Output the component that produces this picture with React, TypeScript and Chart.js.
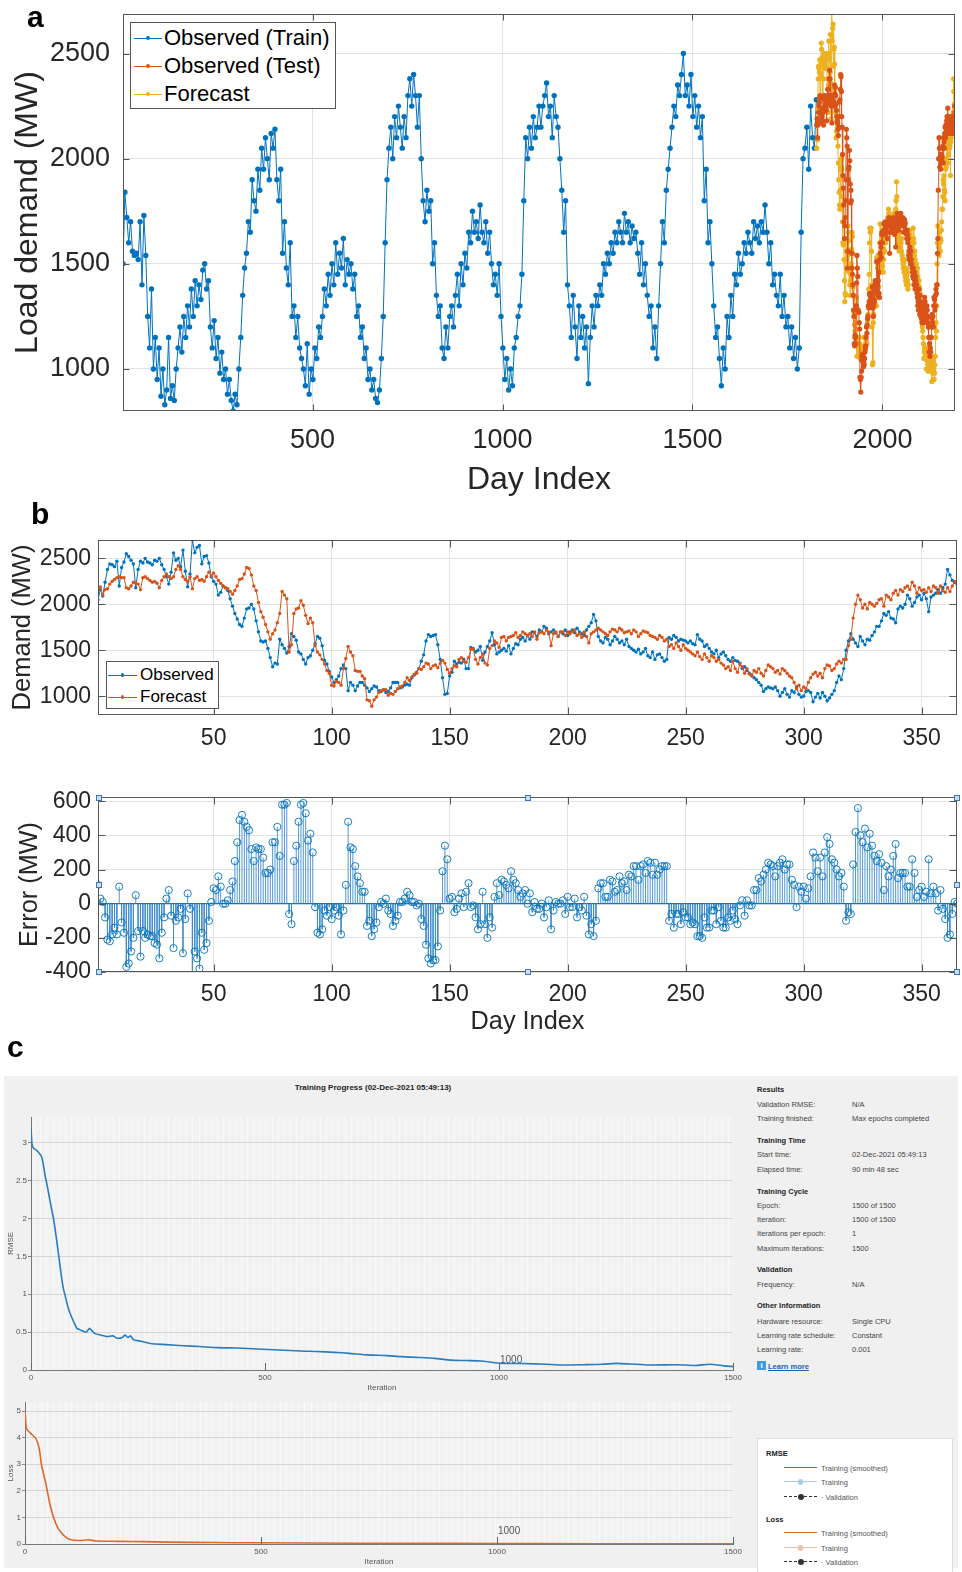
import React, { useEffect, useRef } from "react";
import { Chart, registerables } from "chart.js";
Chart.register(...registerables);

// ---------------- DATA ----------------
// Panel a: training demand, sampled every 5 days (day 1, 6, 11, ...)
const trainStep = 5;
const trainDemand = [
  1500, 1840, 1720, 1600, 1700, 1560, 1540, 1550, 1520, 1700,
  1400, 1730, 1540, 1250, 1100, 1380, 1000, 1150, 950, 1100,
  870, 1000, 830, 900, 1150, 860, 920, 850, 1000, 1100,
  1200, 1080, 1250, 1150, 1300, 1200, 1380, 1250, 1420, 1300,
  1400, 1330, 1470, 1500, 1380, 1420, 1200, 1100, 1230, 1050,
  1150, 980, 1080, 950, 1000, 880, 950, 850, 800, 880,
  830, 1000, 1150, 1350, 1480, 1550, 1700, 1650, 1900, 1800,
  1750, 1950, 1850, 2050, 1950, 2100, 2000, 1900, 2120, 2050,
  2140, 1900, 1800, 1950, 1550, 1700, 1480, 1400, 1600, 1250,
  1300, 1150, 1250, 1100, 1050, 1000, 920, 1120, 880, 1000,
  950, 1100, 1050, 1200, 1150, 1250, 1380, 1300, 1450, 1350,
  1500, 1400, 1600, 1450, 1550, 1480, 1620, 1400, 1520, 1450,
  1500, 1380, 1450, 1250, 1300, 1150, 1200, 1050, 1100, 950,
  1000, 900, 950, 860, 840, 900, 1050, 1250, 1600, 1900,
  2050, 2150, 2000, 2200, 2100, 2250, 2150, 2050, 2200, 2100,
  2300, 2380, 2250, 2400, 2300, 2150, 2300, 2000, 1800, 1700,
  1850, 1750, 1800, 1500, 1600, 1350, 1250, 1300, 1100, 1050,
  1200, 1100, 1250, 1300, 1200, 1350, 1450, 1300, 1500, 1400,
  1550, 1480, 1650, 1600, 1750, 1650, 1700, 1620, 1780, 1650,
  1600, 1700, 1550, 1650, 1500, 1400, 1450, 1350, 1500, 1250,
  1100, 950, 1050, 900, 1000, 920, 1100, 1150, 1250, 1300,
  1450, 1800, 2100, 2000, 2150, 2050, 2200, 2100, 2150, 2250,
  2150, 2250, 2300, 2360, 2200, 2250, 2100, 2300, 2200, 2150,
  2000, 1850, 1650, 1800, 1400, 1300, 1150, 1350, 1200, 1050,
  1300, 1150, 1250, 1100, 1200, 930, 1150, 1300, 1200, 1350,
  1300, 1400, 1350, 1500, 1450, 1550, 1500, 1600, 1550, 1650,
  1600, 1700, 1650, 1600, 1740, 1650, 1700, 1600, 1680, 1620,
  1650, 1550, 1450, 1600, 1400, 1500, 1350, 1250, 1300, 1100,
  1200, 1050, 1300, 1500, 1700, 1600, 1850, 1950, 2050, 2150,
  2250, 2200, 2350, 2300, 2400, 2500, 2300, 2350, 2250, 2400,
  2200, 2300, 2150, 2250, 2100, 2200, 1800, 1950, 1600, 1700,
  1500, 1300, 1150, 1200, 1050, 920, 1100, 1000, 1250, 1150,
  1350, 1250, 1450, 1400, 1550, 1450, 1500, 1600, 1550, 1650,
  1600, 1550, 1700, 1620, 1680, 1600, 1700, 1650, 1780, 1650,
  1500, 1600, 1400, 1450, 1350, 1300, 1450, 1250, 1350, 1200,
  1250, 1100, 1200, 1050, 1150, 1000, 1100, 1650, 2000, 2050,
  2150, 1950, 2250, 2100, 2050, 2280,
];

// Test year (panel b day 1 = panel a day 1827)
const testStartDay = 1827;
const testObserved = [
  2050, 2160, 2090, 2240, 2380, 2440, 2430, 2410, 2470, 2200,
  2400, 2460, 2550, 2520, 2480, 2440, 2180, 2380, 2470, 2450,
  2500, 2460, 2450, 2430, 2480, 2470, 2500, 2430, 2380, 2300,
  2220, 2350, 2560, 2480, 2500, 2410, 2590, 2360, 2190, 2330,
  2700, 2560, 2620, 2640, 2440, 2520, 2530, 2450, 2300, 2250,
  2220, 2100, 2130, 2200, 2180, 2150, 2060, 1980, 1900, 1840,
  1780, 1760, 1850, 1950, 1960, 2000, 1950, 1820, 1700, 1600,
  1590, 1600, 1520, 1420, 1320, 1360, 1350, 1620, 1560, 1520,
  1470, 1540, 1680, 1650, 1610, 1480, 1460, 1400, 1350, 1420,
  1440, 1500, 1570, 1650, 1630, 1550, 1390, 1350, 1270, 1210,
  1150, 1180, 1220, 1300, 1340, 1300, 1060, 1150, 1120, 1060,
  1110, 1150, 1150, 1120, 1090, 1050, 1080, 1110, 1100, 1060,
  1050, 1070, 1040, 1050, 1090, 1150, 1150, 1150, 1090, 1100,
  1120, 1130, 1120, 1200, 1230, 1260, 1300, 1380, 1450, 1600,
  1670, 1650, 1660, 1670, 1560, 1400, 1200, 1020, 1030, 1220,
  1260, 1380, 1350, 1370, 1360, 1400, 1300, 1300, 1530, 1520,
  1480, 1500, 1540, 1390, 1480, 1540, 1600, 1690, 1560, 1460,
  1480, 1500, 1520, 1490, 1550, 1460, 1520, 1570, 1560, 1620,
  1640, 1600, 1660, 1620, 1700, 1690, 1650, 1720, 1700, 1760,
  1740, 1680, 1700, 1720, 1690, 1650, 1700, 1680, 1720, 1660,
  1700, 1720, 1690, 1740, 1700, 1680, 1660, 1720, 1760, 1800,
  1890, 1820, 1650, 1600, 1580, 1640, 1620, 1560, 1600, 1650,
  1620, 1580, 1600, 1560, 1620, 1540, 1520, 1500, 1480, 1510,
  1460, 1480, 1520, 1440, 1420, 1480, 1400, 1450, 1460, 1420,
  1380, 1400, 1640, 1620, 1660, 1640, 1600, 1620, 1610, 1600,
  1580, 1600, 1570, 1560, 1670, 1620, 1600, 1540, 1560, 1520,
  1480, 1460, 1500, 1420, 1460, 1480, 1440, 1400, 1380, 1420,
  1390, 1380, 1360, 1300, 1320, 1280, 1250, 1230, 1200, 1180,
  1150, 1120, 1050, 1080, 1100, 1090, 1080, 1100, 1060, 1000,
  1040, 1080, 1020, 990, 1060, 1040, 1100, 1020, 990, 1000,
  1050, 1060, 1040, 940, 990, 1030, 980, 1040, 1000, 950,
  980, 1020, 1060, 1150, 1220, 1180, 1300, 1500, 1600, 1680,
  1620, 1580, 1540, 1650, 1600, 1560, 1620, 1610, 1660, 1700,
  1760, 1760, 1820, 1900, 1880, 1920, 1850, 1840, 1800, 1950,
  1980, 1960, 2000, 2100, 2060, 1980, 2020, 2080, 2100, 2050,
  2120, 2060, 1920, 2080, 2100, 2120, 2160, 2120, 2180, 2220,
  2380, 2320, 2260, 2240, 2220,
];
const testForecast = [
  2160, 2190, 2100, 2160, 2170, 2220, 2250, 2270, 2290, 2300,
  2290, 2290, 2180, 2170, 2200, 2240, 2230, 2220, 2160, 2290,
  2300, 2280, 2260, 2240, 2250, 2230, 2180, 2260, 2300, 2330,
  2300, 2280, 2300, 2380, 2420, 2380, 2300, 2270, 2250, 2300,
  2170, 2280, 2300, 2260, 2270, 2250, 2300, 2350, 2310, 2340,
  2300, 2260, 2230, 2200, 2180, 2170, 2140, 2110, 2150, 2200,
  2270, 2280, 2330, 2400, 2390, 2320, 2200, 2150, 2020, 1920,
  1860, 1780, 1700, 1620, 1680, 1720, 1800, 1900, 2140, 2100,
  2060, 1480, 1560, 1900, 1950, 1960, 2040, 1990, 1880, 1790,
  1850, 1800, 1550, 1480, 1450, 1400, 1350, 1280, 1250, 1120,
  1110, 1160, 1150, 1120, 1300, 1410, 1540, 1480, 1440, 1280,
  1270, 1270, 1220, 1190, 960, 950, 890, 960, 990, 1040,
  1060, 1070, 1070, 1010, 1030, 1020, 1050, 1080, 1100, 1110,
  1150, 1200, 1170, 1210, 1240, 1250, 1300, 1290, 1320, 1360,
  1350, 1300, 1330, 1340, 1310, 1360, 1390, 1360, 1290, 1250,
  1300, 1330, 1320, 1400, 1420, 1380, 1370, 1420, 1510, 1510,
  1400, 1350, 1420, 1460, 1360, 1340, 1520, 1550, 1600, 1580,
  1530, 1640, 1650, 1600, 1640, 1650, 1660, 1690, 1640, 1660,
  1700, 1680, 1660, 1680, 1650, 1700, 1620, 1690, 1700, 1680,
  1720, 1700, 1550, 1680, 1700, 1650, 1700, 1700, 1660, 1700,
  1680, 1700, 1720, 1660, 1680, 1640, 1700, 1650, 1580, 1680,
  1700, 1720, 1740, 1720, 1700, 1680, 1660, 1700, 1730, 1720,
  1700, 1740, 1720, 1690, 1700, 1710, 1680, 1720, 1700, 1650,
  1680, 1710, 1700, 1690, 1660, 1650, 1640, 1620, 1660, 1640,
  1600, 1620, 1540, 1560, 1520, 1580, 1540, 1500, 1560, 1520,
  1500, 1480, 1460, 1440, 1480, 1430, 1400, 1460, 1420, 1380,
  1440, 1420, 1380, 1400, 1360, 1340, 1300, 1320, 1280, 1380,
  1300, 1260, 1350, 1320, 1250, 1300, 1240, 1220, 1280, 1260,
  1300, 1250, 1220, 1280, 1340, 1320, 1300, 1260, 1280, 1240,
  1300, 1280, 1250, 1220, 1200, 1150, 1080, 1120, 1060, 1100,
  1080, 1150, 1200, 1240, 1260, 1220, 1250, 1200, 1300, 1340,
  1330, 1280, 1300, 1350, 1380, 1360, 1400, 1400, 1550, 1620,
  1850, 2000, 2100, 2050, 1960, 2000, 1950, 2020, 2000, 1980,
  2010, 2050, 2060, 1980, 2100, 2080, 2050, 2120, 2150, 2100,
  2160, 2140, 2180, 2200, 2160, 2240, 2200, 2120, 2180, 2150,
  2160, 2130, 2180, 2140, 2200, 2180, 2120, 2200, 2150, 2130,
  2180, 2140, 2200, 2250, 2220,
];

const dayTicksA = [500, 1000, 1500, 2000];
const loadTicksA = [1000, 1500, 2000, 2500];
const dayTicksB = [50, 100, 150, 200, 250, 300, 350];
const demandTicksB = [1000, 1500, 2000, 2500];
const errorTicks = [-400, -200, 0, 200, 400, 600];

// Panel c: training progress
const rmseIter = [0, 2, 5, 12, 23, 30, 35, 41, 48, 54, 59, 64, 69, 75, 80, 86, 91, 98, 105, 112, 118, 125, 130, 137, 150, 162, 175, 184, 195, 201, 207, 213, 219, 235, 255, 290, 326, 360, 398, 440, 484, 530, 576, 610, 648, 680, 719, 760, 791, 830, 862, 898, 930, 962, 1000, 1050, 1100, 1136, 1180, 1220, 1250, 1280, 1320, 1380, 1420, 1450, 1480, 1500];
const rmseValue = [3.19, 2.99, 2.93, 2.9, 2.81, 2.57, 2.42, 2.22, 2.0, 1.75, 1.52, 1.28, 1.08, 0.93, 0.81, 0.71, 0.64, 0.55, 0.53, 0.51, 0.5, 0.55, 0.52, 0.48, 0.46, 0.44, 0.45, 0.42, 0.43, 0.46, 0.43, 0.45, 0.4, 0.38, 0.35, 0.335, 0.32, 0.31, 0.295, 0.29, 0.277, 0.265, 0.25, 0.245, 0.233, 0.22, 0.2, 0.19, 0.176, 0.165, 0.154, 0.13, 0.125, 0.119, 0.09, 0.085, 0.075, 0.066, 0.07, 0.075, 0.088, 0.08, 0.066, 0.07, 0.06, 0.075, 0.055, 0.045];
const lossIter = [0, 3, 12, 23, 30, 35, 44, 54, 65, 75, 90, 100, 112, 125, 135, 150, 200, 250, 300, 400, 500, 700, 900, 1100, 1300, 1500];
const lossValue = [5.04, 4.35, 4.16, 3.97, 3.6, 2.97, 2.28, 1.4, 0.78, 0.46, 0.21, 0.15, 0.13, 0.14, 0.16, 0.11, 0.1, 0.09, 0.07, 0.055, 0.045, 0.03, 0.025, 0.015, 0.01, 0.008];
const iterTicks = [0, 500, 1000, 1500];
const rmseTicks = [0, 0.5, 1, 1.5, 2, 2.5, 3];
const lossTicks = [0, 1, 2, 3, 4, 5];

// ---------------- STYLE ----------------
const FONT = "'Liberation Sans', Arial, Helvetica, sans-serif";
const BLUE = "#0072BD";
const ORANGE = "#D95319";
const YELLOW = "#EDB120";
const AXC = "#262626";
const GRID = "#e2e2e2";

const matlabBox = {
  id: "matlabBox",
  afterDraw(chart: any, _a: any, o: any) {
    if (!o || !o.enabled) return;
    const { ctx, chartArea: ca, scales } = chart;
    const l = Math.round(ca.left) + 0.5, t = Math.round(ca.top) + 0.5;
    const r = Math.round(ca.right) - 0.5, b = Math.round(ca.bottom) - 0.5;
    ctx.save();
    ctx.strokeStyle = o.color || "#555";
    ctx.lineWidth = 1;
    ctx.strokeRect(l, t, r - l, b - t);
    const len = o.tickLen || 6;
    ctx.beginPath();
    for (const v of o.xTicks || []) {
      const px = Math.round(scales.x.getPixelForValue(v)) + 0.5;
      ctx.moveTo(px, b); ctx.lineTo(px, b - len);
      ctx.moveTo(px, t); ctx.lineTo(px, t + len);
    }
    for (const v of o.yTicks || []) {
      const py = Math.round(scales.y.getPixelForValue(v)) + 0.5;
      ctx.moveTo(l, py); ctx.lineTo(l + len, py);
      ctx.moveTo(r, py); ctx.lineTo(r - len, py);
    }
    ctx.stroke();
    if (o.handles) {
      const mx = (l + r) / 2, my = (t + b) / 2;
      const pts = [[l, t], [l, my], [l, b], [mx, t], [mx, b], [r, t], [r, my], [r, b]];
      ctx.fillStyle = "#c9dcf0";
      ctx.strokeStyle = "#3b78b8";
      for (const [x, y] of pts) {
        ctx.fillRect(Math.round(x) - 3, Math.round(y) - 3, 6, 6);
        ctx.strokeRect(Math.round(x) - 2.5, Math.round(y) - 2.5, 5, 5);
      }
    }
    ctx.restore();
  },
};

const trainPanel = {
  id: "trainPanel",
  beforeDraw(chart: any, _a: any, o: any) {
    if (!o || !o.enabled) return;
    const { ctx, chartArea: ca, scales } = chart;
    ctx.save();
    ctx.fillStyle = "#f2f2f2";
    ctx.fillRect(ca.left, ca.top, ca.right - ca.left, ca.bottom - ca.top);
    ctx.strokeStyle = "rgba(255,255,255,0.55)";
    ctx.lineWidth = 1;
    ctx.beginPath();
    for (let it = 7; it < 1500; it += 13) {
      const px = Math.round(scales.x.getPixelForValue(it)) + 0.5;
      ctx.moveTo(px, ca.top);
      ctx.lineTo(px, ca.bottom);
    }
    ctx.stroke();
    ctx.restore();
  },
  afterDraw(chart: any, _a: any, o: any) {
    if (!o || !o.enabled) return;
    const { ctx, chartArea: ca, scales } = chart;
    ctx.save();
    ctx.strokeStyle = "#666";
    ctx.lineWidth = 1;
    ctx.beginPath();
    for (const v of o.xTicks || []) {
      const px = Math.round(scales.x.getPixelForValue(v)) + 0.5;
      ctx.moveTo(px, ca.bottom);
      ctx.lineTo(px, ca.bottom - 7);
    }
    ctx.stroke();
    if (o.note) {
      ctx.fillStyle = "#555";
      ctx.font = `10px ${FONT}`;
      ctx.textAlign = "left";
      ctx.textBaseline = "bottom";
      ctx.fillText(o.note.text, scales.x.getPixelForValue(o.note.x) + 1, scales.y.getPixelForValue(o.note.y) + 2);
    }
    ctx.restore();
  },
};

Chart.register(matlabBox, trainPanel);

function fixedTicks(vals: number[]) {
  return (s: any) => {
    s.ticks = vals.map((v) => ({ value: v }));
  };
}

function axis(opts: {
  min: number; max: number; ticks: number[]; size: number; color: string; pad: number;
  width?: number; height?: number; title?: string; titleSize?: number;
  titlePad?: any; grid?: any; border?: any;
}) {
  return {
    type: "linear" as const,
    min: opts.min,
    max: opts.max,
    afterBuildTicks: fixedTicks(opts.ticks),
    afterFit: (s: any) => {
      if (opts.width !== undefined) s.width = opts.width;
      if (opts.height !== undefined) s.height = opts.height;
      s.paddingTop = 0;
      s.paddingBottom = 0;
      s.paddingLeft = 0;
      s.paddingRight = 0;
    },
    grid: opts.grid || { color: GRID, drawTicks: false },
    border: opts.border || { display: false },
    ticks: {
      font: { family: FONT, size: opts.size },
      color: opts.color,
      padding: opts.pad,
      maxRotation: 0,
      autoSkip: false,
      callback: (v: any) => String(v),
    },
    title: opts.title
      ? { display: true, text: opts.title, font: { family: FONT, size: opts.titleSize }, color: opts.color, padding: opts.titlePad }
      : { display: false },
  };
}

const baseOpts = (padTop: number, padRight: number) => ({
  responsive: false,
  animation: false as const,
  events: [] as any[],
  layout: { padding: { top: padTop, right: padRight, left: 0, bottom: 0 } },
});

function lineDs(data: any[], color: string, r: number, bw = 1) {
  return {
    data,
    borderColor: color,
    backgroundColor: color,
    borderWidth: bw,
    pointRadius: r,
    pointBorderWidth: 0,
    pointBackgroundColor: color,
    tension: 0,
  };
}

function configA(): any {
  const train = trainDemand.map((v, i) => ({ x: 1 + i * trainStep, y: v }));
  const orangeSeries = testForecast.map((v, i) => ({ x: testStartDay + i, y: v }));
  const yellowSeries = testObserved.map((v, i) => ({ x: testStartDay + i, y: v }));
  return {
    type: "line",
    data: { datasets: [lineDs(orangeSeries, ORANGE, 2.6), lineDs(yellowSeries, YELLOW, 2.6), lineDs(train, BLUE, 2.7)] },
    options: {
      ...baseOpts(14, 7),
      plugins: { legend: { display: false }, tooltip: { enabled: false }, matlabBox: { enabled: true, xTicks: dayTicksA, yTicks: loadTicksA, tickLen: 6 } },
      scales: {
        x: axis({ min: 1, max: 2191, ticks: dayTicksA, height: 89, size: 27, color: AXC, pad: 13, title: "Day Index", titleSize: 32, titlePad: { top: 0, bottom: 1 } }),
        y: axis({ min: 800, max: 2688, ticks: loadTicksA, width: 123, size: 27, color: AXC, pad: 13, title: "Load demand (MW)", titleSize: 32, titlePad: { top: 9, bottom: 0 } }),
      },
    },
  };
}

function configB1(): any {
  const obs = testObserved.map((v, i) => ({ x: i + 1, y: v }));
  const fc = testForecast.map((v, i) => ({ x: i + 1, y: v }));
  return {
    type: "line",
    data: { datasets: [lineDs(fc, ORANGE, 1.7), lineDs(obs, BLUE, 1.7)] },
    options: {
      ...baseOpts(15, 5),
      plugins: { legend: { display: false }, tooltip: { enabled: false }, matlabBox: { enabled: true, xTicks: dayTicksB, yTicks: demandTicksB, tickLen: 7 } },
      scales: {
        x: axis({ min: 1, max: 365, ticks: dayTicksB, height: 45, size: 23, color: AXC, pad: 10 }),
        y: axis({ min: 795, max: 2700, ticks: demandTicksB, width: 98, size: 23, color: AXC, pad: 7, title: "Demand (MW)", titleSize: 25.5, titlePad: { top: 8, bottom: 0 } }),
      },
    },
  };
}

function configB2(): any {
  const err = testForecast.map((v, i) => v - testObserved[i]);
  const stems: any[] = [];
  err.forEach((e, i) => {
    stems.push({ x: i + 1, y: 0 }, { x: i + 1, y: e }, { x: i + 1, y: null });
  });
  const heads = err.map((e, i) => ({ x: i + 1, y: e }));
  return {
    type: "line",
    data: {
      datasets: [
        { data: heads, showLine: false, pointRadius: 3.6, pointBorderWidth: 0.9, pointBorderColor: BLUE, pointBackgroundColor: "rgba(0,0,0,0)", borderColor: BLUE },
        { data: stems, borderColor: "#3d8ccc", borderWidth: 0.9, pointRadius: 0, spanGaps: false },
        { data: [{ x: 1, y: 0 }, { x: 365, y: 0 }], borderColor: BLUE, borderWidth: 1.2, pointRadius: 0 },
      ],
    },
    options: {
      ...baseOpts(17, 5),
      plugins: { legend: { display: false }, tooltip: { enabled: false }, matlabBox: { enabled: true, xTicks: dayTicksB, yTicks: errorTicks, tickLen: 7, handles: true } },
      scales: {
        x: axis({ min: 1, max: 365, ticks: dayTicksB, height: 68, size: 23, color: AXC, pad: 9, title: "Day Index", titleSize: 25.3, titlePad: { top: 0, bottom: 3 } }),
        y: axis({ min: -400, max: 625, ticks: errorTicks, width: 98, size: 23, color: AXC, pad: 7, title: "Error (MW)", titleSize: 25.3, titlePad: { top: 15, bottom: 0 } }),
      },
    },
  };
}

function configTrain(iters: number[], vals: number[], color: string, yMax: number, yTicks: number[], yW: number, xH: number, padTop: number, title: string, xPad: number, note: any): any {
  const pts = iters.map((it, i) => ({ x: it, y: vals[i] }));
  return {
    type: "line",
    data: { datasets: [{ data: pts, borderColor: color, borderWidth: 1.6, pointRadius: 0, tension: 0.2 }] },
    options: {
      ...baseOpts(padTop, 12),
      plugins: { legend: { display: false }, tooltip: { enabled: false }, trainPanel: { enabled: true, xTicks: iterTicks, note } },
      scales: {
        x: axis({ min: 0, max: 1500, ticks: iterTicks, height: xH, size: 8, color: "#555", pad: 3, title: "Iteration", titleSize: 8, titlePad: { top: 0, bottom: xPad },
          grid: { display: false, drawTicks: false }, border: { display: true, color: "#777", width: 1 } }),
        y: axis({ min: 0, max: yMax, ticks: yTicks, width: yW, size: 8, color: "#555", pad: 1, title, titleSize: 8, titlePad: { top: 6, bottom: 0 },
          grid: { color: "#d6d6d6", drawTicks: true, tickLength: 3, tickColor: "#888" }, border: { display: true, color: "#777", width: 1 } }),
      },
    },
  };
}

function ChartCanvas({ left, top, width, height, make }: { left: number; top: number; width: number; height: number; make: () => any }) {
  const ref = useRef<HTMLCanvasElement>(null);
  useEffect(() => {
    const c = new Chart(ref.current as HTMLCanvasElement, make());
    return () => c.destroy();
  }, []);
  return <canvas ref={ref} width={width} height={height} style={{ position: "absolute", left, top, width, height }} />;
}

function Txt({ x, y, size, bold, color, align = "left", children }: { x: number; y: number; size: number; bold?: boolean; color?: string; align?: string; children: React.ReactNode }) {
  const style: React.CSSProperties = {
    position: "absolute",
    top: y - size * 0.6,
    fontSize: size,
    lineHeight: `${size * 1.2}px`,
    fontWeight: bold ? 700 : 400,
    color: color || "#000",
    whiteSpace: "nowrap",
    fontFamily: FONT,
    left: x,
  };
  if (align === "center") style.transform = "translateX(-50%)";
  return <div style={style}>{children}</div>;
}

function Sample({ x1, x2, y, color, dot, dash, w = 1 }: { x1: number; x2: number; y: number; color: string; dot: number; dash?: boolean; w?: number }) {
  const cx = (x1 + x2) / 2;
  return (
    <>
      <div style={{ position: "absolute", left: x1, top: y - w / 2, width: x2 - x1, height: 0, borderTop: `${w}px ${dash ? "dashed" : "solid"} ${color}` }} />
      {dot > 0 && <div style={{ position: "absolute", left: cx - dot, top: y - dot, width: dot * 2, height: dot * 2, borderRadius: "50%", background: color }} />}
    </>
  );
}

const infoRows: [string, string, number, boolean][] = [
  ["Results", "", 1089, true],
  ["Validation RMSE:", "N/A", 1104.5, false],
  ["Training finished:", "Max epochs completed", 1118.5, false],
  ["Training Time", "", 1140.5, true],
  ["Start time:", "02-Dec-2021 05:49:13", 1154.5, false],
  ["Elapsed time:", "90 min 48 sec", 1169, false],
  ["Training Cycle", "", 1191, true],
  ["Epoch:", "1500 of 1500", 1205, false],
  ["Iteration:", "1500 of 1500", 1219.5, false],
  ["Iterations per epoch:", "1", 1233.5, false],
  ["Maximum iterations:", "1500", 1248, false],
  ["Validation", "", 1269.5, true],
  ["Frequency:", "N/A", 1284.5, false],
  ["Other Information", "", 1305.5, true],
  ["Hardware resource:", "Single CPU", 1321, false],
  ["Learning rate schedule:", "Constant", 1335, false],
  ["Learning rate:", "0.001", 1349.5, false],
];

export default function App() {
  return (
    <div style={{ position: "absolute", left: 0, top: 0, width: 962, height: 1572, background: "#fff", overflow: "hidden", fontFamily: FONT }}>
      {/* panel c background */}
      <div style={{ position: "absolute", left: 4, top: 1076, width: 954, height: 492, background: "#f0f0f0" }} />

      <ChartCanvas left={0} top={0} width={962} height={500} make={configA} />
      <ChartCanvas left={0} top={525} width={962} height={235} make={configB1} />
      <ChartCanvas left={0} top={780} width={962} height={260} make={configB2} />
      <ChartCanvas left={0} top={1100} width={745} height={295}
        make={() => configTrain(rmseIter, rmseValue, "#2a7bc0", 3.34, rmseTicks, 31, 25, 17, "RMSE", 2, { x: 1000, y: 0.09, text: "1000" })} />
      <ChartCanvas left={0} top={1395} width={745} height={177}
        make={() => configTrain(lossIter, lossValue, "#e0662a", 5.34, lossTicks, 25, 28, 7, "Loss", 5, { x: 1000, y: 0.35, text: "1000" })} />

      {/* panel letters */}
      <Txt x={27} y={16.6} size={30} bold>a</Txt>
      <Txt x={31} y={513.6} size={30} bold>b</Txt>
      <Txt x={7} y={1046.6} size={30} bold>c</Txt>

      {/* legend a */}
      <div style={{ position: "absolute", left: 130, top: 22, width: 204, height: 85, border: "1px solid #555", background: "#fff" }} />
      <Sample x1={134} x2={162} y={38} color={BLUE} dot={2.3} />
      <Sample x1={134} x2={162} y={66} color={ORANGE} dot={2.3} />
      <Sample x1={134} x2={162} y={94} color={YELLOW} dot={2.3} />
      <Txt x={164} y={38} size={22}>Observed (Train)</Txt>
      <Txt x={164} y={66} size={22}>Observed (Test)</Txt>
      <Txt x={164} y={94} size={22}>Forecast</Txt>

      {/* legend b */}
      <div style={{ position: "absolute", left: 106, top: 661, width: 111, height: 46, border: "1px solid #555", background: "#fff" }} />
      <Sample x1={108} x2={137} y={675} color={BLUE} dot={1.7} />
      <Sample x1={108} x2={137} y={697} color={ORANGE} dot={1.7} />
      <Txt x={140} y={675} size={17}>Observed</Txt>
      <Txt x={140} y={697} size={17}>Forecast</Txt>

      {/* panel c texts */}
      <Txt x={373} y={1088} size={8} bold color="#222" align="center">Training Progress (02-Dec-2021 05:49:13)</Txt>
      {infoRows.map(([k, v, y, h], i) => (
        <React.Fragment key={i}>
          <Txt x={757} y={y} size={7.5} bold={h} color={h ? "#222" : "#444"}>{k}</Txt>
          {v && <Txt x={852} y={y} size={7.5} color="#444">{v}</Txt>}
        </React.Fragment>
      ))}
      <div style={{ position: "absolute", left: 757, top: 1361, width: 9, height: 9, background: "#3d9be0", color: "#fff", fontSize: 8, lineHeight: "9px", textAlign: "center", fontWeight: 700, fontFamily: FONT }}>i</div>
      <Txt x={768} y={1366} size={7.5} bold color="#1a5fb4">
        <span style={{ textDecoration: "underline" }}>Learn more</span>
      </Txt>

      {/* legend c */}
      <div style={{ position: "absolute", left: 757, top: 1438, width: 194, height: 140, border: "1px solid #dcdcdc", background: "#fff" }} />
      <Txt x={766} y={1453} size={7.5} bold color="#222">RMSE</Txt>
      <Sample x1={784} x2={817} y={1468} color="#2a7bc0" dot={0} w={1.5} />
      <Sample x1={784} x2={817} y={1482} color="#a9cbe8" dot={2.8} w={1.5} />
      <Sample x1={784} x2={817} y={1497} color="#333" dot={3} dash w={1.5} />
      <Txt x={821} y={1468} size={7.5} color="#555">Training (smoothed)</Txt>
      <Txt x={821} y={1482} size={7.5} color="#555">Training</Txt>
      <Txt x={821} y={1497} size={7.5} color="#555">· Validation</Txt>
      <Txt x={766} y={1519} size={7.5} bold color="#222">Loss</Txt>
      <Sample x1={784} x2={817} y={1533} color="#e0662a" dot={0} w={1.5} />
      <Sample x1={784} x2={817} y={1548} color="#f2bca5" dot={2.8} w={1.5} />
      <Sample x1={784} x2={817} y={1562} color="#333" dot={3} dash w={1.5} />
      <Txt x={821} y={1533} size={7.5} color="#555">Training (smoothed)</Txt>
      <Txt x={821} y={1548} size={7.5} color="#555">Training</Txt>
      <Txt x={821} y={1562} size={7.5} color="#555">· Validation</Txt>
    </div>
  );
}
